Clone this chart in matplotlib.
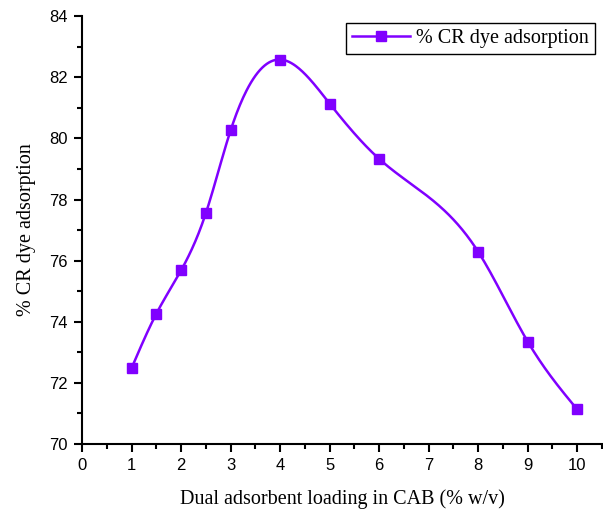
import numpy as np
import matplotlib
matplotlib.use('Agg')
import matplotlib.pyplot as plt
from matplotlib.ticker import MultipleLocator

# dual adsorbent loading (% w/v) vs CR dye adsorption (%)
loading = [1, 1.5, 2, 2.5, 3, 4, 5, 6, 8, 9, 10]
adsorption = [72.48, 74.26, 75.68, 77.55, 80.26, 82.58, 81.14, 79.33, 76.29, 73.35, 71.13]


def natural_spline(x, y, xs):
    # natural cubic spline through the measured points (Origin "spline" connect)
    x = np.asarray(x, float)
    y = np.asarray(y, float)
    n = len(x)
    h = np.diff(x)
    A = np.zeros((n, n))
    b = np.zeros(n)
    A[0, 0] = 1
    A[-1, -1] = 1
    for i in range(1, n - 1):
        A[i, i - 1] = h[i - 1]
        A[i, i] = 2 * (h[i - 1] + h[i])
        A[i, i + 1] = h[i]
        b[i] = 6 * ((y[i + 1] - y[i]) / h[i] - (y[i] - y[i - 1]) / h[i - 1])
    M = np.linalg.solve(A, b)
    out = np.empty_like(xs)
    for k, t in enumerate(xs):
        i = min(max(np.searchsorted(x, t) - 1, 0), n - 2)
        a, c = x[i], x[i + 1]
        out[k] = (M[i] * (c - t) ** 3 / (6 * h[i]) + M[i + 1] * (t - a) ** 3 / (6 * h[i])
                  + (y[i] / h[i] - M[i] * h[i] / 6) * (c - t)
                  + (y[i + 1] / h[i] - M[i + 1] * h[i] / 6) * (t - a))
    return out


color = '#8000ff'
xs = np.linspace(loading[0], loading[-1], 400)
ys = natural_spline(loading, adsorption, xs)

fig = plt.figure(figsize=(6.03, 5.13), dpi=100)
ax = fig.add_axes([0.136, 0.1345, 0.864, 0.834])

ax.plot(xs, ys, color=color, lw=1.8)
ax.plot(loading, adsorption, 's', color=color, ms=7, lw=0)
# legend handle: line with marker
ax.plot([], [], '-s', color=color, ms=7, lw=1.8, label='% CR dye adsorption')

ax.set_xlim(0, 10.52)
ax.set_ylim(70, 84)
ax.xaxis.set_major_locator(MultipleLocator(1))
ax.xaxis.set_minor_locator(MultipleLocator(0.5))
ax.yaxis.set_major_locator(MultipleLocator(2))
ax.yaxis.set_minor_locator(MultipleLocator(1))

for s in ['top', 'right']:
    ax.spines[s].set_visible(False)
for s in ['left', 'bottom']:
    ax.spines[s].set_linewidth(1.5)

ax.tick_params(which='major', direction='out', length=6, width=1.5,
               labelsize=12, pad=4)
ax.tick_params(which='minor', direction='out', length=3.5, width=1.5)
for lab in ax.get_xticklabels() + ax.get_yticklabels():
    lab.set_family('Liberation Sans')

ax.set_xlabel('Dual adsorbent loading in CAB (% w/v)', family='Liberation Serif',
              fontsize=14.5, labelpad=12)
ax.set_ylabel('% CR dye adsorption', family='Liberation Serif', fontsize=14.5,
              labelpad=10)

leg = ax.legend(loc='upper right', bbox_to_anchor=(0.985, 0.985),
                prop={'family': 'Liberation Serif', 'size': 14.5},
                fancybox=False, edgecolor='black', framealpha=1,
                handlelength=2.9, handletextpad=0.3, borderpad=0.3,
                borderaxespad=0)
leg.get_frame().set_linewidth(1.0)

fig.savefig('out.png', dpi=100)
